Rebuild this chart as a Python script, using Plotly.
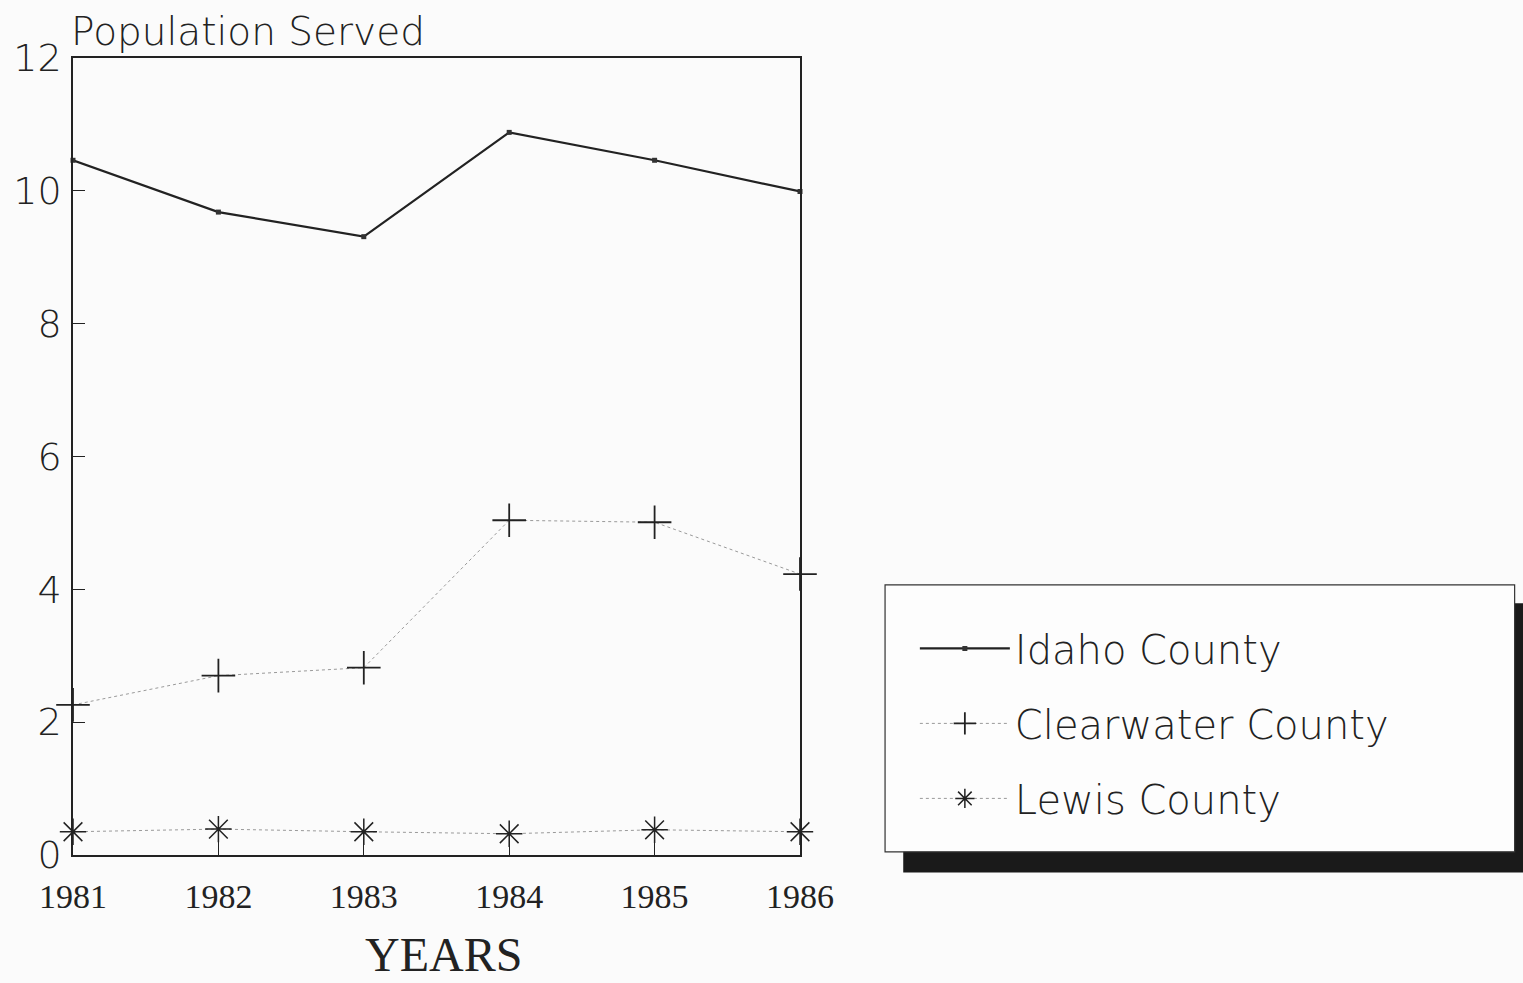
import plotly.graph_objects as go

# 数値は図から読み取ったもの
years = [1981, 1982, 1983, 1984, 1985, 1986]
idaho = [10.46, 9.68, 9.31, 10.88, 10.46, 9.99]
clearwater = [2.26, 2.70, 2.82, 5.04, 5.01, 4.23]
lewis = [0.35, 0.39, 0.35, 0.32, 0.38, 0.35]
y_ticks = [0, 2, 4, 6, 8, 10, 12]

FONT = 'DejaVu Sans'
INK = '#222222'

fig = go.Figure()

fig.add_trace(go.Scatter(
    x=years, y=idaho, name='Idaho County', mode='lines+markers',
    line=dict(color=INK, width=2.2),
    marker=dict(symbol='square', size=5, color='#333333'),
    cliponaxis=False, legendgroup='a'))

fig.add_trace(go.Scatter(
    x=years, y=clearwater, name='Clearwater County', mode='lines+markers',
    line=dict(color='#9a9a9a', width=1, dash='dot'),
    marker=dict(symbol='cross-thin', size=24, color=INK, line=dict(color=INK, width=1.8)),
    cliponaxis=False, legendgroup='b'))

fig.add_trace(go.Scatter(
    x=years, y=lewis, name='Lewis County', mode='lines+markers',
    line=dict(color='#9a9a9a', width=1, dash='dot'),
    marker=dict(symbol='asterisk-open', size=22, color=INK, line=dict(color=INK, width=1.5)),
    cliponaxis=False, legendgroup='c'))

fig.update_layout(
    width=1523, height=983,
    margin=dict(l=73, r=723, t=58, b=128),
    paper_bgcolor='#fbfbfb', plot_bgcolor='#fbfbfb',
    font=dict(family=FONT, color=INK, size=34, weight=300),
    showlegend=True,
    legend=dict(x=1.158, y=0.30, xanchor='left', yanchor='top',
                bgcolor='rgba(0,0,0,0)', itemwidth=90, tracegroupgap=20,
                font=dict(size=40, family=FONT, weight=300)),
    annotations=[
        dict(text='Population Served', x=-0.005, y=1.0, xref='paper', yref='paper',
             xanchor='left', yanchor='bottom', showarrow=False, yshift=2,
             font=dict(size=39, family=FONT, weight=300)),
        dict(text='YEARS', x=0.509, y=-0.125, xref='paper', yref='paper',
             xanchor='center', yanchor='middle', showarrow=False,
             font=dict(size=48, family='Liberation Serif', weight='normal')),
    ],
    shapes=[
        # 凡例の影と枠
        dict(type='rect', xref='paper', yref='paper', x0=1.142, x1=2.0, y0=-0.022, y1=0.316,
             fillcolor='#1a1a1a', line=dict(width=0), layer='below'),
        dict(type='rect', xref='paper', yref='paper', x0=1.117, x1=1.983, y0=0.004, y1=0.339,
             fillcolor='#fdfdfd', line=dict(color='#333333', width=1.2), layer='below'),
    ],
)

fig.update_xaxes(
    range=[1981, 1986], tickvals=years, ticktext=[str(y) for y in years],
    ticks='inside', ticklen=22, tickwidth=1.2, tickcolor=INK,
    showline=True, linecolor=INK, linewidth=1.5, mirror=True,
    showgrid=False, zeroline=False, ticklabelstandoff=10, automargin=False,
    tickfont=dict(size=34, family='Liberation Serif', weight='normal'))

fig.update_yaxes(
    range=[0, 12], tickvals=y_ticks,
    ticks='inside', ticklen=12, tickwidth=1.2, tickcolor=INK,
    showline=True, linecolor=INK, linewidth=1.5, mirror=True,
    showgrid=False, zeroline=False, ticklabelstandoff=2, automargin=False,
    tickfont=dict(size=38, family=FONT, weight=300))

# ページ余白をなくして図を左上にそろえる
fig.write_html('out.html', config={'displayModeBar': False},
               post_script="document.body.style.margin='0';")
